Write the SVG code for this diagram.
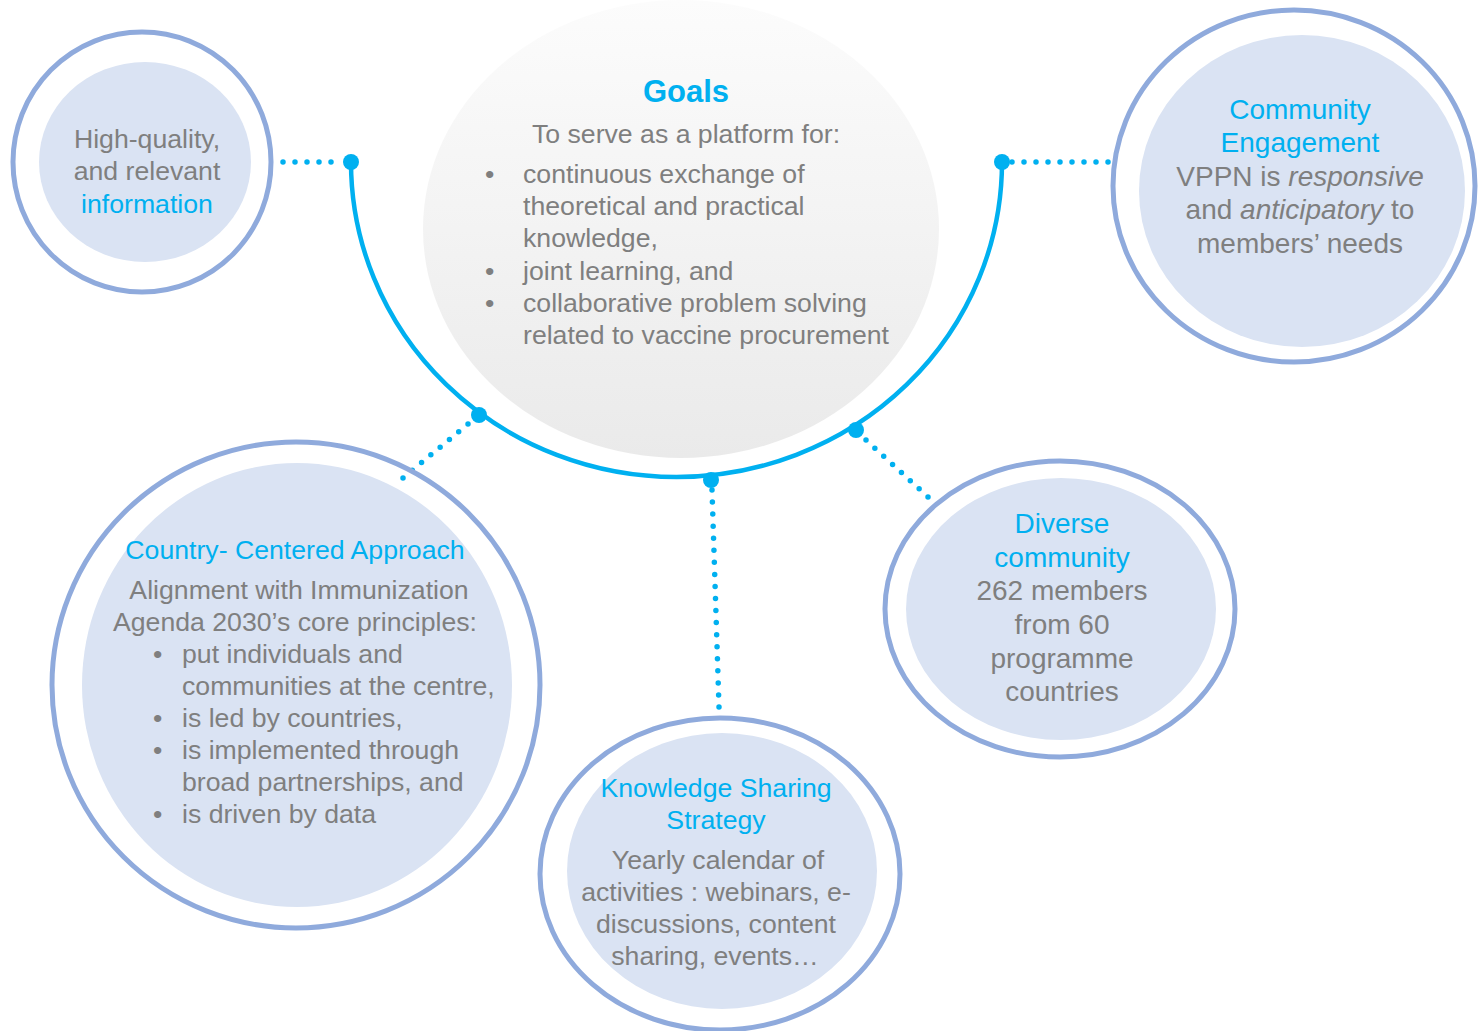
<svg xmlns="http://www.w3.org/2000/svg" width="1478" height="1031" viewBox="0 0 1478 1031">
  <style>
    .ring { fill: none; stroke: #8FAADC; stroke-width: 5; }
    .inner { fill: #DAE3F3; }
    .t { font-family: "Liberation Sans", Arial, sans-serif; font-size: 26.67px; fill: #7F7F7F; }
    .tl { font-size: 28px; }
    .c { text-anchor: middle; }
    .blue { fill: #00B0F0; }
    .dotline { fill: none; stroke: #00B0F0; stroke-width: 5.5; stroke-linecap: round; stroke-dasharray: 0 1; }
    .arc { fill: none; stroke: #00B0F0; stroke-width: 4.5; }
    .knob { fill: #00B0F0; }
  </style>
  <defs>
    <linearGradient id="goalsGrad" x1="0" y1="0" x2="0" y2="1">
      <stop offset="0" stop-color="#FCFCFC"/>
      <stop offset="1" stop-color="#EAEAEA"/>
    </linearGradient>
  </defs>
  <rect width="1478" height="1031" fill="#FFFFFF"/>

  <g id="goals">
    <ellipse cx="681" cy="229" rx="258" ry="229" fill="url(#goalsGrad)"/>
    <text class="t c blue" x="686" y="102" style="font-size:31px;font-weight:bold">Goals</text>
    <text class="t c" x="686" y="143">To serve as a platform for:</text>
    <text class="t" x="485" y="183">•</text>
    <text class="t" x="523" y="183">continuous exchange of</text>
    <text class="t" x="523" y="215">theoretical and practical</text>
    <text class="t" x="523" y="247">knowledge,</text>
    <text class="t" x="485" y="280">•</text>
    <text class="t" x="523" y="280">joint learning, and</text>
    <text class="t" x="485" y="312">•</text>
    <text class="t" x="523" y="312">collaborative problem solving</text>
    <text class="t" x="523" y="344">related to vaccine procurement</text>
  </g>

  <g id="connectors">
    <path class="arc" d="M351,162 A325.5,315 0 0 0 1002,162"/>
    <line class="dotline" x1="283" y1="162" x2="343" y2="162" pathLength="5"/>
    <line class="dotline" x1="1012" y1="162" x2="1120" y2="162" pathLength="9"/>
    <line class="dotline" x1="468" y1="424" x2="403" y2="478" pathLength="7"/>
    <line class="dotline" x1="866" y1="440" x2="928" y2="497" pathLength="7"/>
    <line class="dotline" x1="712" y1="490" x2="719" y2="707" pathLength="18"/>
    <circle class="knob" cx="351" cy="162" r="8"/>
    <circle class="knob" cx="1002" cy="162" r="8"/>
    <circle class="knob" cx="479" cy="415" r="8"/>
    <circle class="knob" cx="856" cy="430" r="8"/>
    <circle class="knob" cx="711" cy="480" r="8"/>
  </g>

  <g id="high-quality">
    <ellipse class="inner" cx="145" cy="162" rx="106" ry="100"/>
    <ellipse class="ring" cx="142" cy="162" rx="129" ry="130"/>
    <text class="t c" x="147" y="148">High-quality,</text>
    <text class="t c" x="147" y="180">and relevant</text>
    <text class="t c blue" x="147" y="213">information</text>
  </g>

  <g id="community-engagement">
    <ellipse class="inner" cx="1302" cy="191" rx="163" ry="156"/>
    <ellipse class="ring" cx="1294" cy="186" rx="181" ry="176"/>
    <text class="t tl c blue" x="1300" y="119">Community</text>
    <text class="t tl c blue" x="1300" y="152">Engagement</text>
    <text class="t tl c" x="1300" y="186">VPPN is <tspan font-style="italic">responsive</tspan></text>
    <text class="t tl c" x="1300" y="219">and <tspan font-style="italic">anticipatory</tspan> to</text>
    <text class="t tl c" x="1300" y="253">members’ needs</text>
  </g>

  <g id="country-centered">
    <ellipse class="inner" cx="297" cy="685" rx="215" ry="222"/>
    <ellipse class="ring" cx="296" cy="685" rx="244" ry="243"/>
    <text class="t c blue" x="295" y="559">Country- Centered Approach</text>
    <text class="t c" x="299" y="599">Alignment with Immunization</text>
    <text class="t c" x="295" y="631">Agenda 2030’s core principles:</text>
    <text class="t" x="153" y="663">•</text>
    <text class="t" x="182" y="663">put individuals and</text>
    <text class="t" x="182" y="695">communities at the centre,</text>
    <text class="t" x="153" y="727">•</text>
    <text class="t" x="182" y="727">is led by countries,</text>
    <text class="t" x="153" y="759">•</text>
    <text class="t" x="182" y="759">is implemented through</text>
    <text class="t" x="182" y="791">broad partnerships, and</text>
    <text class="t" x="153" y="823">•</text>
    <text class="t" x="182" y="823">is driven by data</text>
  </g>

  <g id="knowledge-sharing">
    <ellipse class="inner" cx="722" cy="871" rx="155" ry="138"/>
    <ellipse class="ring" cx="720" cy="874" rx="180" ry="156"/>
    <text class="t c blue" x="716" y="797">Knowledge Sharing</text>
    <text class="t c blue" x="716" y="829">Strategy</text>
    <text class="t c" x="718" y="869">Yearly calendar of</text>
    <text class="t c" x="716" y="901">activities : webinars, e-</text>
    <text class="t c" x="716" y="933">discussions, content</text>
    <text class="t c" x="715" y="965">sharing, events…</text>
  </g>

  <g id="diverse-community">
    <ellipse class="inner" cx="1061" cy="609" rx="155" ry="131"/>
    <ellipse class="ring" cx="1060" cy="609" rx="175" ry="148"/>
    <text class="t tl c blue" x="1062" y="533">Diverse</text>
    <text class="t tl c blue" x="1062" y="567">community</text>
    <text class="t tl c" x="1062" y="600">262 members</text>
    <text class="t tl c" x="1062" y="634">from 60</text>
    <text class="t tl c" x="1062" y="668">programme</text>
    <text class="t tl c" x="1062" y="701">countries</text>
  </g>
</svg>
